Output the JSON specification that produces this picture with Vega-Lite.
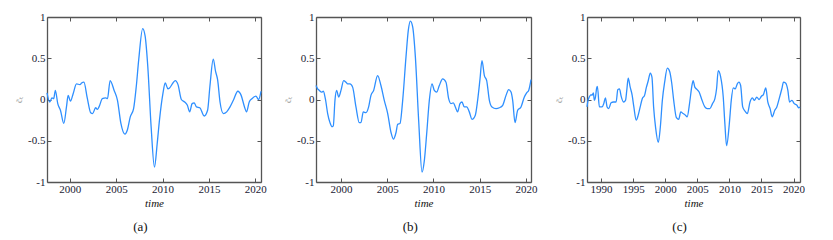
{
  "$schema": "https://vega.github.io/schema/vega-lite/v6.json",
  "padding": {"left": 14, "top": 11, "right": 0, "bottom": 0},
  "background": "white",
  "config": {
    "font": "Liberation Serif, Times New Roman, serif",
    "view": {"stroke": null},
    "axis": {
      "grid": false,
      "domainColor": "#555555",
      "domainWidth": 1.3,
      "tickColor": "#555555",
      "tickSize": -4,
      "labelFont": "Liberation Serif, Times New Roman, serif",
      "labelFontSize": 11,
      "labelColor": "#1a1a33",
      "labelPadding": 6,
      "titleFont": "Liberation Serif, Times New Roman, serif",
      "titleFontWeight": "normal"
    },
    "title": {"font": "Liberation Serif, Times New Roman, serif", "fontSize": 13, "fontWeight": "normal", "color": "#111111", "orient": "bottom", "anchor": "middle", "frame": "bounds", "offset": 13}
  },
  "datasets": {
    "a": [
      {"t": 1997.54, "v": 0.08}, {"t": 1997.83, "v": -0.03}, {"t": 1998.08, "v": 0.02}, {"t": 1998.26, "v": 0.01},
      {"t": 1998.44, "v": 0.11}, {"t": 1998.70, "v": -0.05}, {"t": 1998.99, "v": -0.13}, {"t": 1999.35, "v": -0.29},
      {"t": 1999.64, "v": -0.09}, {"t": 1999.82, "v": 0.05}, {"t": 2000.07, "v": -0.02}, {"t": 2000.36, "v": 0.07},
      {"t": 2000.72, "v": 0.19}, {"t": 2001.09, "v": 0.18}, {"t": 2001.27, "v": 0.20}, {"t": 2001.52, "v": 0.21},
      {"t": 2001.88, "v": 0.02}, {"t": 2002.25, "v": -0.16}, {"t": 2002.46, "v": -0.17}, {"t": 2002.79, "v": -0.10},
      {"t": 2002.97, "v": -0.12}, {"t": 2003.15, "v": -0.09}, {"t": 2003.51, "v": 0.01}, {"t": 2003.88, "v": 0.02},
      {"t": 2004.06, "v": 0.01}, {"t": 2004.35, "v": 0.23}, {"t": 2004.78, "v": 0.11}, {"t": 2005.14, "v": -0.01},
      {"t": 2005.51, "v": -0.29}, {"t": 2005.94, "v": -0.42}, {"t": 2006.23, "v": -0.36}, {"t": 2006.52, "v": -0.21},
      {"t": 2006.88, "v": -0.11}, {"t": 2007.17, "v": 0.16}, {"t": 2007.43, "v": 0.48}, {"t": 2007.86, "v": 0.86},
      {"t": 2008.12, "v": 0.77}, {"t": 2008.41, "v": 0.40}, {"t": 2008.77, "v": -0.33}, {"t": 2009.13, "v": -0.82},
      {"t": 2009.42, "v": -0.54}, {"t": 2009.67, "v": -0.25}, {"t": 2010.04, "v": 0.07}, {"t": 2010.29, "v": 0.20},
      {"t": 2010.58, "v": 0.13}, {"t": 2010.76, "v": 0.14}, {"t": 2011.12, "v": 0.20}, {"t": 2011.38, "v": 0.23},
      {"t": 2011.67, "v": 0.18}, {"t": 2012.03, "v": 0.00}, {"t": 2012.39, "v": -0.03}, {"t": 2012.68, "v": -0.07},
      {"t": 2012.93, "v": -0.15}, {"t": 2013.19, "v": -0.05}, {"t": 2013.41, "v": -0.04}, {"t": 2013.66, "v": -0.09},
      {"t": 2014.02, "v": -0.10}, {"t": 2014.49, "v": -0.20}, {"t": 2014.86, "v": -0.13}, {"t": 2015.11, "v": 0.16},
      {"t": 2015.47, "v": 0.49}, {"t": 2015.72, "v": 0.34}, {"t": 2015.94, "v": 0.24}, {"t": 2016.20, "v": -0.03},
      {"t": 2016.56, "v": -0.17}, {"t": 2016.92, "v": -0.15}, {"t": 2017.28, "v": -0.09}, {"t": 2017.64, "v": -0.01},
      {"t": 2018.12, "v": 0.10}, {"t": 2018.48, "v": 0.05}, {"t": 2018.84, "v": -0.09}, {"t": 2019.06, "v": -0.15},
      {"t": 2019.35, "v": -0.03}, {"t": 2019.64, "v": 0.01}, {"t": 2020.07, "v": 0.04}, {"t": 2020.36, "v": 0.00},
      {"t": 2020.62, "v": 0.10}
    ],
    "b": [
      {"t": 1997.30, "v": 0.17}, {"t": 1997.48, "v": 0.13}, {"t": 1997.66, "v": 0.11}, {"t": 1997.91, "v": 0.09},
      {"t": 1998.09, "v": 0.10}, {"t": 1998.31, "v": 0.01}, {"t": 1998.56, "v": -0.17}, {"t": 1998.81, "v": -0.28},
      {"t": 1999.03, "v": -0.33}, {"t": 1999.17, "v": -0.32}, {"t": 1999.35, "v": -0.01}, {"t": 1999.53, "v": 0.11},
      {"t": 1999.75, "v": 0.03}, {"t": 2000.00, "v": 0.11}, {"t": 2000.29, "v": 0.23}, {"t": 2000.54, "v": 0.21},
      {"t": 2000.72, "v": 0.19}, {"t": 2000.97, "v": 0.19}, {"t": 2001.26, "v": 0.15}, {"t": 2001.62, "v": -0.09},
      {"t": 2001.98, "v": -0.28}, {"t": 2002.16, "v": -0.28}, {"t": 2002.41, "v": -0.15}, {"t": 2002.70, "v": -0.16},
      {"t": 2002.99, "v": -0.09}, {"t": 2003.24, "v": 0.05}, {"t": 2003.53, "v": 0.11}, {"t": 2003.96, "v": 0.29},
      {"t": 2004.32, "v": 0.17}, {"t": 2004.68, "v": -0.01}, {"t": 2005.05, "v": -0.17}, {"t": 2005.41, "v": -0.40},
      {"t": 2005.66, "v": -0.48}, {"t": 2005.95, "v": -0.40}, {"t": 2006.13, "v": -0.30}, {"t": 2006.38, "v": -0.29},
      {"t": 2006.67, "v": -0.01}, {"t": 2007.03, "v": 0.52}, {"t": 2007.28, "v": 0.84}, {"t": 2007.50, "v": 0.95},
      {"t": 2007.75, "v": 0.88}, {"t": 2008.04, "v": 0.52}, {"t": 2008.40, "v": -0.26}, {"t": 2008.76, "v": -0.88},
      {"t": 2009.01, "v": -0.74}, {"t": 2009.26, "v": -0.42}, {"t": 2009.55, "v": -0.01}, {"t": 2009.84, "v": 0.19},
      {"t": 2010.09, "v": 0.11}, {"t": 2010.34, "v": 0.09}, {"t": 2010.63, "v": 0.17}, {"t": 2010.99, "v": 0.25},
      {"t": 2011.35, "v": 0.21}, {"t": 2011.64, "v": 0.01}, {"t": 2011.89, "v": -0.05}, {"t": 2012.14, "v": -0.04},
      {"t": 2012.36, "v": -0.09}, {"t": 2012.61, "v": -0.15}, {"t": 2012.86, "v": -0.05}, {"t": 2013.08, "v": -0.03},
      {"t": 2013.33, "v": -0.09}, {"t": 2013.59, "v": -0.09}, {"t": 2013.87, "v": -0.15}, {"t": 2014.16, "v": -0.24},
      {"t": 2014.52, "v": -0.19}, {"t": 2014.77, "v": -0.01}, {"t": 2015.03, "v": 0.25}, {"t": 2015.24, "v": 0.47},
      {"t": 2015.50, "v": 0.29}, {"t": 2015.75, "v": 0.23}, {"t": 2016.04, "v": -0.01}, {"t": 2016.32, "v": -0.09},
      {"t": 2016.76, "v": -0.11}, {"t": 2017.12, "v": -0.10}, {"t": 2017.48, "v": -0.07}, {"t": 2017.84, "v": 0.05},
      {"t": 2018.13, "v": 0.12}, {"t": 2018.38, "v": 0.09}, {"t": 2018.56, "v": -0.01}, {"t": 2018.81, "v": -0.28},
      {"t": 2019.10, "v": -0.13}, {"t": 2019.46, "v": -0.09}, {"t": 2019.82, "v": 0.03}, {"t": 2020.07, "v": 0.08},
      {"t": 2020.29, "v": 0.11}, {"t": 2020.54, "v": 0.24}
    ],
    "c": [
      {"t": 1987.81, "v": -0.09}, {"t": 1987.97, "v": -0.01}, {"t": 1988.17, "v": 0.03}, {"t": 1988.44, "v": 0.06},
      {"t": 1988.59, "v": 0.05}, {"t": 1988.80, "v": 0.08}, {"t": 1988.96, "v": -0.01}, {"t": 1989.11, "v": 0.02},
      {"t": 1989.32, "v": 0.14}, {"t": 1989.43, "v": 0.16}, {"t": 1989.74, "v": -0.09}, {"t": 1990.16, "v": -0.09},
      {"t": 1990.42, "v": -0.05}, {"t": 1990.68, "v": 0.02}, {"t": 1990.94, "v": -0.09}, {"t": 1991.20, "v": -0.11},
      {"t": 1991.56, "v": -0.04}, {"t": 1991.93, "v": -0.03}, {"t": 1992.35, "v": -0.03}, {"t": 1992.61, "v": 0.12},
      {"t": 1992.87, "v": 0.13}, {"t": 1993.13, "v": 0.04}, {"t": 1993.50, "v": -0.03}, {"t": 1993.81, "v": -0.01},
      {"t": 1994.02, "v": 0.12}, {"t": 1994.23, "v": 0.26}, {"t": 1994.54, "v": 0.15}, {"t": 1994.85, "v": 0.05},
      {"t": 1995.11, "v": -0.09}, {"t": 1995.48, "v": -0.25}, {"t": 1995.79, "v": -0.19}, {"t": 1996.10, "v": -0.09},
      {"t": 1996.42, "v": 0.01}, {"t": 1996.78, "v": 0.05}, {"t": 1997.04, "v": 0.14}, {"t": 1997.36, "v": 0.23},
      {"t": 1997.67, "v": 0.32}, {"t": 1997.93, "v": 0.27}, {"t": 1998.19, "v": -0.09}, {"t": 1998.50, "v": -0.34},
      {"t": 1998.92, "v": -0.52}, {"t": 1999.23, "v": -0.34}, {"t": 1999.55, "v": -0.01}, {"t": 1999.91, "v": 0.21},
      {"t": 2000.33, "v": 0.38}, {"t": 2000.69, "v": 0.34}, {"t": 2001.01, "v": 0.20}, {"t": 2001.32, "v": -0.01},
      {"t": 2001.74, "v": -0.22}, {"t": 2002.10, "v": -0.24}, {"t": 2002.42, "v": -0.15}, {"t": 2002.78, "v": -0.17},
      {"t": 2003.15, "v": -0.19}, {"t": 2003.41, "v": -0.21}, {"t": 2003.82, "v": -0.03}, {"t": 2004.14, "v": 0.16},
      {"t": 2004.35, "v": 0.23}, {"t": 2004.61, "v": 0.15}, {"t": 2004.97, "v": 0.12}, {"t": 2005.28, "v": 0.09},
      {"t": 2005.65, "v": 0.01}, {"t": 2006.17, "v": -0.09}, {"t": 2006.54, "v": -0.11}, {"t": 2006.95, "v": -0.11},
      {"t": 2007.37, "v": -0.05}, {"t": 2007.74, "v": 0.01}, {"t": 2008.00, "v": 0.13}, {"t": 2008.26, "v": 0.35},
      {"t": 2008.62, "v": 0.28}, {"t": 2009.04, "v": 0.03}, {"t": 2009.30, "v": -0.30}, {"t": 2009.56, "v": -0.56},
      {"t": 2009.98, "v": -0.30}, {"t": 2010.29, "v": -0.01}, {"t": 2010.61, "v": 0.14}, {"t": 2010.92, "v": 0.13},
      {"t": 2011.23, "v": 0.19}, {"t": 2011.49, "v": 0.21}, {"t": 2011.75, "v": 0.17}, {"t": 2012.07, "v": -0.09},
      {"t": 2012.43, "v": -0.14}, {"t": 2012.80, "v": -0.17}, {"t": 2013.21, "v": -0.03}, {"t": 2013.58, "v": 0.02},
      {"t": 2013.89, "v": -0.01}, {"t": 2014.26, "v": 0.03}, {"t": 2014.62, "v": 0.00}, {"t": 2014.99, "v": 0.04},
      {"t": 2015.30, "v": 0.06}, {"t": 2015.67, "v": 0.14}, {"t": 2015.98, "v": -0.03}, {"t": 2016.34, "v": -0.11},
      {"t": 2016.66, "v": -0.21}, {"t": 2017.07, "v": -0.13}, {"t": 2017.39, "v": -0.09}, {"t": 2017.76, "v": 0.01},
      {"t": 2018.17, "v": 0.13}, {"t": 2018.43, "v": 0.21}, {"t": 2018.75, "v": 0.20}, {"t": 2019.11, "v": 0.11},
      {"t": 2019.37, "v": -0.03}, {"t": 2019.74, "v": -0.01}, {"t": 2020.10, "v": -0.05}, {"t": 2020.52, "v": -0.07},
      {"t": 2020.78, "v": -0.10}, {"t": 2021.00, "v": -0.09}
    ]
  },
  "hconcat": [
    {
      "width": 214, "height": 165,
      "title": {"text": "(a)"},
      "data": {"name": "a"},
      "layer": [
        {
          "mark": {"type": "line", "color": "#2e8fff", "strokeWidth": 1.3, "interpolate": "monotone"},
          "encoding": {
            "x": {"field": "t", "type": "quantitative", "scale": {"domain": [1997.54, 2020.62], "nice": false, "zero": false},
                  "axis": {"orient": "bottom", "values": [2000, 2005, 2010, 2015, 2020], "format": "d", "labelPadding": 5, "title": "time", "titleFontStyle": "italic", "titleFontSize": 11, "titlePadding": 3, "titleColor": "#111111"}},
            "y": {"field": "v", "type": "quantitative", "scale": {"domain": [-1, 1], "nice": false},
                  "axis": {"orient": "left", "values": [-1, -0.5, 0, 0.5, 1], "labelExpr": "datum.value < 0 ? '-' + format(-datum.value, '~g') : format(datum.value, '~g')", "title": "c̃ₜ", "titleFontSize": 9, "titleColor": "#999999", "titlePadding": 4}}
          }
        },
        {
          "mark": {"type": "line", "opacity": 0},
          "encoding": {
            "x": {"field": "t", "type": "quantitative", "axis": {"orient": "top", "values": [2000, 2005, 2010, 2015, 2020], "labels": false, "title": null}},
            "y": {"field": "v", "type": "quantitative", "axis": {"orient": "right", "values": [-1, -0.5, 0, 0.5, 1], "labels": false, "title": null}}
          }
        }
      ],
      "resolve": {"axis": {"x": "independent", "y": "independent"}}
    },
    {
      "width": 215, "height": 165,
      "title": {"text": "(b)"},
      "data": {"name": "b"},
      "layer": [
        {
          "mark": {"type": "line", "color": "#2e8fff", "strokeWidth": 1.3, "interpolate": "monotone"},
          "encoding": {
            "x": {"field": "t", "type": "quantitative", "scale": {"domain": [1997.3, 2020.54], "nice": false, "zero": false},
                  "axis": {"orient": "bottom", "values": [2000, 2005, 2010, 2015, 2020], "format": "d", "labelPadding": 5, "title": "time", "titleFontStyle": "italic", "titleFontSize": 11, "titlePadding": 3, "titleColor": "#111111"}},
            "y": {"field": "v", "type": "quantitative", "scale": {"domain": [-1, 1], "nice": false},
                  "axis": {"orient": "left", "values": [-1, -0.5, 0, 0.5, 1], "labelExpr": "datum.value < 0 ? '-' + format(-datum.value, '~g') : format(datum.value, '~g')", "title": "c̃ₜ", "titleFontSize": 9, "titleColor": "#999999", "titlePadding": 4}}
          }
        },
        {
          "mark": {"type": "line", "opacity": 0},
          "encoding": {
            "x": {"field": "t", "type": "quantitative", "axis": {"orient": "top", "values": [2000, 2005, 2010, 2015, 2020], "labels": false, "title": null}},
            "y": {"field": "v", "type": "quantitative", "axis": {"orient": "right", "values": [-1, -0.5, 0, 0.5, 1], "labels": false, "title": null}}
          }
        }
      ],
      "resolve": {"axis": {"x": "independent", "y": "independent"}}
    },
    {
      "width": 213, "height": 165,
      "title": {"text": "(c)"},
      "data": {"name": "c"},
      "layer": [
        {
          "mark": {"type": "line", "color": "#2e8fff", "strokeWidth": 1.3, "interpolate": "monotone"},
          "encoding": {
            "x": {"field": "t", "type": "quantitative", "scale": {"domain": [1987.81, 2021.0], "nice": false, "zero": false},
                  "axis": {"orient": "bottom", "values": [1990, 1995, 2000, 2005, 2010, 2015, 2020], "format": "d", "labelPadding": 5, "title": "time", "titleFontStyle": "italic", "titleFontSize": 11, "titlePadding": 3, "titleColor": "#111111"}},
            "y": {"field": "v", "type": "quantitative", "scale": {"domain": [-1, 1], "nice": false},
                  "axis": {"orient": "left", "values": [-1, -0.5, 0, 0.5, 1], "labelExpr": "datum.value < 0 ? '-' + format(-datum.value, '~g') : format(datum.value, '~g')", "title": "c̃ₜ", "titleFontSize": 9, "titleColor": "#999999", "titlePadding": 4}}
          }
        },
        {
          "mark": {"type": "line", "opacity": 0},
          "encoding": {
            "x": {"field": "t", "type": "quantitative", "axis": {"orient": "top", "values": [1990, 1995, 2000, 2005, 2010, 2015, 2020], "labels": false, "title": null}},
            "y": {"field": "v", "type": "quantitative", "axis": {"orient": "right", "values": [-1, -0.5, 0, 0.5, 1], "labels": false, "title": null}}
          }
        }
      ],
      "resolve": {"axis": {"x": "independent", "y": "independent"}}
    }
  ],
  "spacing": 16
}
